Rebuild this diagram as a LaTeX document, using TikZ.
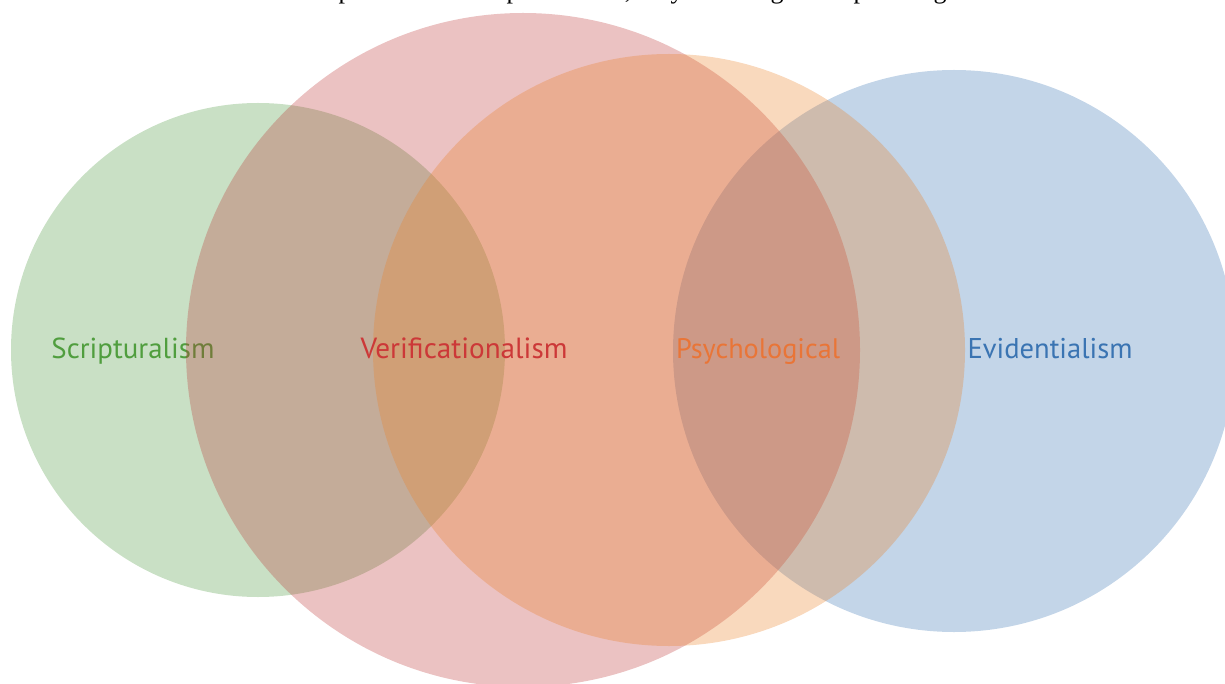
\documentclass[tikz,border=0pt]{standalone}
\usepackage{fontspec}
\setmainfont{Liberation Serif}
\newfontfamily\labelfont{PT Sans}
\definecolor{setgreen}{RGB}{75,152,62}
\definecolor{setred}{RGB}{188,52,52}
\definecolor{setorange}{RGB}{235,128,38}
\definecolor{setblue}{RGB}{55,115,178}
\definecolor{txtgreen}{RGB}{80,158,62}
\definecolor{txtred}{RGB}{204,56,56}
\definecolor{txtorange}{RGB}{233,117,55}
\definecolor{txtblue}{RGB}{58,116,178}
\newcommand{\fitw}[2]{\resizebox{#1pt}{!}{#2}}
\begin{document}
\begin{tikzpicture}[x=1pt,y=-1pt,
  vennset/.style={fill=#1, fill opacity=0.3, draw=none},
  setlabel/.style={text=#1, font=\labelfont\fontsize{26}{30}\selectfont, anchor=base, inner sep=0pt},
  frag/.style={font=\fontsize{26}{30}\selectfont, anchor=base, inner sep=0pt}]
\useasboundingbox (0,0) rectangle (1225,684);
\clip (0,0) rectangle (1225,684);

% line of text above the diagram (only its descenders fall inside)
\node[frag] (f1) at (345,-1) {p};
\node[frag] (f2) at (513,-1) {p};
\node[frag] (f3) at (628,-1) {,};
\node[frag] (f4) at (677,-1) {y};
\node[frag] (f5) at (777,-1) {g};
\node[frag] (f6) at (860,-1) {p};
\node[frag] (f7) at (940,-1) {g};

% sets (blue and green lie underneath, red and orange above them)
\fill[vennset=setblue] (954,351) circle[radius=281];
\fill[vennset=setgreen] (258,350) circle[radius=247];
\node[setlabel=txtgreen] (scrip) at (133,358) {\fitw{163}{Scripturalism}};
\fill[vennset=setred] (523,350) circle[radius=337];
\fill[vennset=setorange] (669,350) circle[radius=296];

\node[setlabel=txtred] (verif) at (464,358) {\fitw{207}{Verificationalism}};
\node[setlabel=txtorange] (psych) at (758,358) {\fitw{164}{Psychological}};
\node[setlabel=txtblue] (evid) at (1050,358) {\fitw{165}{Evidentialism}};
\end{tikzpicture}
\end{document}
